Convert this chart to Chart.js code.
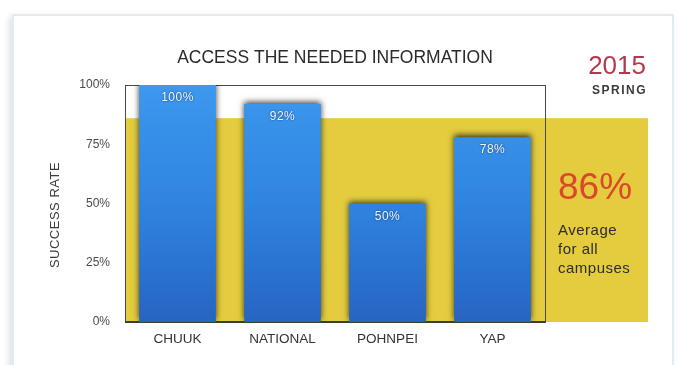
<!DOCTYPE html>
<html lang="en">
<head>
<meta charset="UTF-8">
<title>Access the Needed Information</title>
<script src="https://cdn.jsdelivr.net/npm/chart.js"></script>
<style>
  body { margin: 0; background: #fff; }
  .card {
    position: absolute; left: 12px; top: 14px; width: 658px; height: 360px;
    border: 2px solid #e3ebf2; background: #fff;
    box-shadow: -3px 2px 6px rgba(0, 0, 0, 0.12);
  }
  #chart { position: absolute; left: 0; top: 0; }
</style>
</head>
<body>
<div class="card"></div>
<canvas id="chart" width="679" height="365"></canvas>
<script>
const campuses = ['CHUUK', 'NATIONAL', 'POHNPEI', 'YAP'];
const successRates = [100, 92, 50, 78];
const averageRate = 86;
const yTicks = [0, 25, 50, 75, 100];
const termLines = ['2015', 'SPRING'];
const averageNote = ['Average', 'for all', 'campuses'];
const yTitle = 'SUCCESS RATE';

const FONT = '"Liberation Sans", Arial, sans-serif';

// yellow average band + thin frame around the plot
const bandPlugin = {
  id: 'band',
  beforeDatasetsDraw(chart) {
    const { ctx, chartArea: a, scales: { y } } = chart;
    const top = y.getPixelForValue(averageRate);
    ctx.save();
    ctx.fillStyle = '#e4cc3e';
    ctx.fillRect(a.left, top, a.right + 103 - a.left, a.bottom - top);
    ctx.strokeStyle = '#4a4a44';
    ctx.lineWidth = 1;
    ctx.strokeRect(a.left + 0.5, a.top + 0.5, a.right - a.left, a.bottom - a.top);
    ctx.fillStyle = '#3d3d36';
    ctx.fillRect(a.left, a.bottom - 1, a.right - a.left, 2);
    ctx.restore();
  }
};

// dark halo round the bars
const shadowPlugin = {
  id: 'barShadow',
  beforeDatasetDraw(chart) {
    const ctx = chart.ctx;
    ctx.save();
    ctx.shadowColor = 'rgba(20, 20, 10, 0.8)';
    ctx.shadowBlur = 6;
    ctx.shadowOffsetY = -2;
  },
  afterDatasetDraw(chart) {
    chart.ctx.restore();
  }
};

// value labels inside the bar tops
const valuePlugin = {
  id: 'values',
  afterDatasetsDraw(chart) {
    const ctx = chart.ctx;
    const meta = chart.getDatasetMeta(0);
    ctx.save();
    ctx.font = '12px ' + FONT;
    ctx.letterSpacing = '0.5px';
    ctx.textAlign = 'center';
    ctx.textBaseline = 'middle';
    ctx.fillStyle = '#f4f8ff';
    ctx.shadowColor = 'rgba(0, 30, 80, 0.8)';
    ctx.shadowBlur = 2;
    meta.data.forEach((bar, i) => {
      ctx.fillText(successRates[i] + '%', bar.x, bar.y + 13);
    });
    ctx.restore();
  }
};

// axis title, term and average summary
const sidePlugin = {
  id: 'side',
  afterDraw(chart) {
    const { ctx, chartArea: a } = chart;
    const x = a.right + 12;
    ctx.save();
    ctx.textBaseline = 'middle';

    ctx.save();
    ctx.translate(55, 215);
    ctx.rotate(-Math.PI / 2);
    ctx.textAlign = 'center';
    ctx.fillStyle = '#3a3a3a';
    ctx.font = '13px ' + FONT;
    ctx.letterSpacing = '0.5px';
    ctx.fillText(yTitle, 0, 0);
    ctx.restore();

    ctx.textAlign = 'right';
    ctx.fillStyle = '#b33a4c';
    ctx.font = '26px ' + FONT;
    ctx.fillText(termLines[0], 646, 67);
    ctx.fillStyle = '#3a3a3a';
    ctx.font = 'bold 12px ' + FONT;
    ctx.letterSpacing = '1.5px';
    ctx.fillText(termLines[1], 647, 91);
    ctx.letterSpacing = '0px';
    ctx.textAlign = 'left';
    ctx.fillStyle = '#d9482b';
    ctx.font = '37px ' + FONT;
    ctx.fillText(averageRate + '%', x + 1, 189);
    ctx.fillStyle = '#2e2e28';
    ctx.font = '15px ' + FONT;
    ctx.letterSpacing = '0.5px';
    averageNote.forEach((line, i) => ctx.fillText(line, x + 1, 231 + i * 19));
    ctx.restore();
  }
};

new Chart(document.getElementById('chart'), {
  type: 'bar',
  data: {
    labels: campuses,
    datasets: [{
      data: successRates,
      backgroundColor(c) {
        const a = c.chart.chartArea;
        if (!a) return '#2f86e0';
        const g = c.chart.ctx.createLinearGradient(0, a.top, 0, a.bottom);
        g.addColorStop(0, '#3d98ee');
        g.addColorStop(0.5, '#2f84e0');
        g.addColorStop(1, '#2764c2');
        return g;
      },
      borderWidth: 0,
      categoryPercentage: 1,
      barPercentage: 0.73
    }]
  },
  options: {
    responsive: false,
    animation: false,
    layout: { padding: { left: 43, right: 134, top: 14, bottom: 0 } },
    plugins: {
      legend: { display: false },
      tooltip: { enabled: false },
      title: {
        display: true,
        fullSize: false,
        text: 'ACCESS THE NEEDED INFORMATION',
        color: '#2a2a2a',
        font: { family: FONT, size: 17.5, weight: 'normal' },
        padding: { top: 34, bottom: 16 }
      }
    },
    scales: {
      x: {
        grid: { display: false, drawTicks: false },
        border: { display: false },
        ticks: { color: '#333', font: { family: FONT, size: 13.5 }, padding: 9 },
        afterFit(scale) { scale.height = 43; }
      },
      y: {
        min: 0,
        max: 100,
        afterBuildTicks(scale) { scale.ticks = yTicks.map(v => ({ value: v })); },
        grid: { display: false, drawTicks: false },
        border: { display: false },
        ticks: { color: '#4a4a4a', font: { family: FONT, size: 12 }, padding: 15, callback: v => v + '%' },
        afterFit(scale) { scale.width = 82; }
      }
    }
  },
  plugins: [bandPlugin, shadowPlugin, valuePlugin, sidePlugin]
});
</script>
</body>
</html>
